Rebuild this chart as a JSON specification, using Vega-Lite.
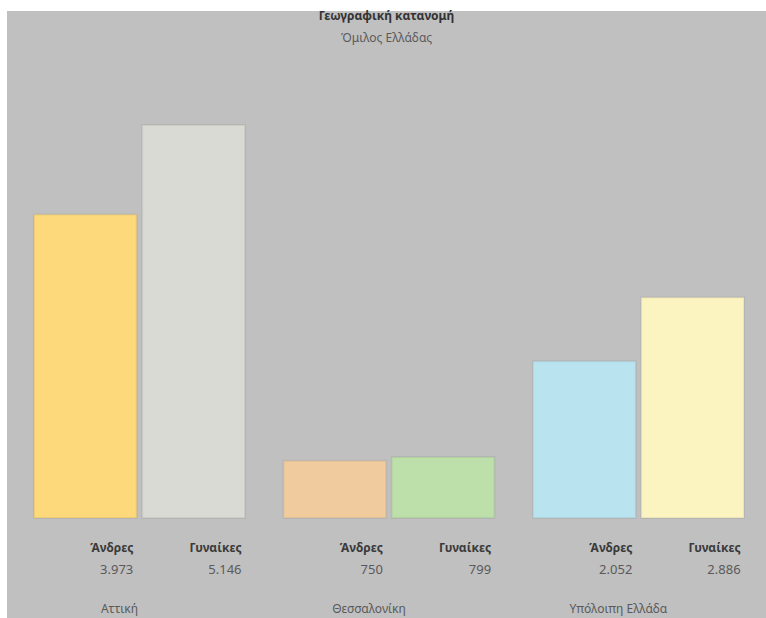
{
  "$schema": "https://vega.github.io/schema/vega-lite/v6.json",
  "width": 759,
  "height": 607,
  "autosize": {"type": "none"},
  "padding": {"top": 11, "left": 7, "right": 0, "bottom": 0},
  "background": "#ffffff",
  "title": {
    "text": "Γεωγραφική κατανομή",
    "subtitle": "Όμιλος Ελλάδας",
    "anchor": "middle",
    "offset": -34,
    "font": "Noto Sans",
    "fontSize": 12,
    "fontWeight": "bold",
    "color": "#333333",
    "subtitleFont": "Noto Sans",
    "subtitleFontSize": 12,
    "subtitleColor": "#5a5a5a",
    "subtitlePadding": 10
  },
  "config": {
    "view": {"fill": "#c0c0c0", "stroke": null},
    "locale": {"number": {"decimal": ",", "thousands": ".", "grouping": [3], "currency": ["", " €"]}}
  },
  "data": {
    "values": [
      {"region": "Αττική", "gender": "Άνδρες", "count": 3973},
      {"region": "Αττική", "gender": "Γυναίκες", "count": 5146},
      {"region": "Θεσσαλονίκη", "gender": "Άνδρες", "count": 750},
      {"region": "Θεσσαλονίκη", "gender": "Γυναίκες", "count": 799},
      {"region": "Υπόλοιπη Ελλάδα", "gender": "Άνδρες", "count": 2052},
      {"region": "Υπόλοιπη Ελλάδα", "gender": "Γυναίκες", "count": 2886}
    ]
  },
  "transform": [{"calculate": "datum.region + ' ' + datum.gender", "as": "bar"}],
  "encoding": {
    "x": {
      "field": "region",
      "type": "nominal",
      "sort": ["Αττική", "Θεσσαλονίκη", "Υπόλοιπη Ελλάδα"],
      "axis": null,
      "scale": {"paddingInner": 0.154, "paddingOuter": 0.098, "align": 0.55}
    }
  },
  "layer": [
    {
      "mark": {"type": "bar", "stroke": "#000000", "strokeOpacity": 0.06, "strokeWidth": 2},
      "encoding": {
        "xOffset": {"field": "gender", "type": "nominal", "sort": ["Άνδρες", "Γυναίκες"], "scale": {"paddingInner": 0.05, "paddingOuter": 0}},
        "y": {
          "field": "count",
          "type": "quantitative",
          "axis": null,
          "scale": {"domain": [-1309, 6639], "nice": false, "zero": false}
        },
        "y2": {"datum": 0},
        "color": {
          "field": "bar",
          "type": "nominal",
          "legend": null,
          "scale": {
            "domain": [
              "Αττική Άνδρες", "Αττική Γυναίκες",
              "Θεσσαλονίκη Άνδρες", "Θεσσαλονίκη Γυναίκες",
              "Υπόλοιπη Ελλάδα Άνδρες", "Υπόλοιπη Ελλάδα Γυναίκες"
            ],
            "range": ["#fdd97c", "#d9dad4", "#efcb9e", "#bddfaa", "#b8e3ef", "#fcf4c0"]
          }
        }
      }
    },
    {
      "mark": {"type": "text", "align": "right", "baseline": "middle", "dx": 48, "dy": 30, "font": "Noto Sans", "fontSize": 12, "fontWeight": "bold", "color": "#3a3a3a"},
      "encoding": {
        "xOffset": {"field": "gender", "type": "nominal", "sort": ["Άνδρες", "Γυναίκες"], "scale": {"paddingInner": 0.05, "paddingOuter": 0}},
        "y": {"datum": 0, "type": "quantitative"},
        "text": {"field": "gender"}
      }
    },
    {
      "mark": {"type": "text", "align": "right", "baseline": "middle", "dx": 48, "dy": 52, "font": "Noto Sans", "fontSize": 13, "color": "#5a5a5a"},
      "encoding": {
        "xOffset": {"field": "gender", "type": "nominal", "sort": ["Άνδρες", "Γυναίκες"], "scale": {"paddingInner": 0.05, "paddingOuter": 0}},
        "y": {"datum": 0, "type": "quantitative"},
        "text": {"field": "count", "type": "quantitative", "format": ",d"}
      }
    },
    {
      "transform": [{"filter": "datum.gender === 'Άνδρες'"}],
      "mark": {"type": "text", "align": "center", "baseline": "middle", "dx": -20, "dy": 91, "font": "Noto Sans", "fontSize": 12, "color": "#5a5a5a"},
      "encoding": {
        "y": {"datum": 0, "type": "quantitative"},
        "text": {"field": "region"}
      }
    }
  ]
}
